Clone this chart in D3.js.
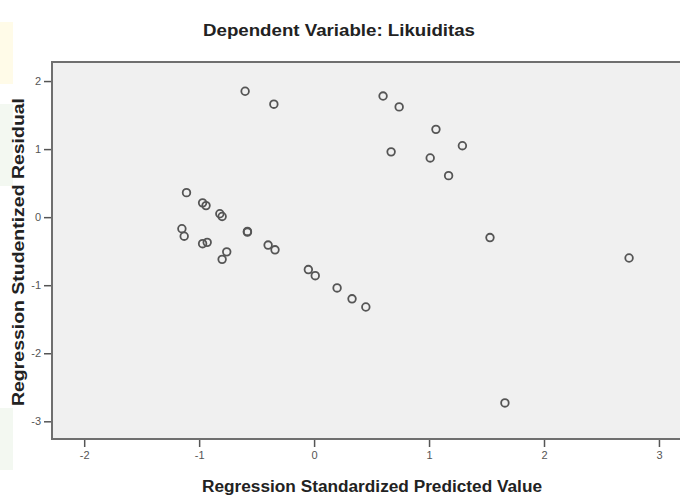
<!DOCTYPE html>
<html lang="en">
<head>
    <meta charset="UTF-8">
    <title>Scatterplot - Likuiditas</title>
    <script src="https://cdn.jsdelivr.net/npm/d3@7"></script>
    <style>
        body { margin: 0; background: #fff; }
        svg { display: block; }
    </style>
</head>
<body>
<script>

    // DATA
    const predicted = [-0.60, -0.35, 0.60, 0.74, 1.06, 0.67, 1.01, 1.29, 1.17, 1.53, 2.74, 1.66,
                       -1.11, -0.97, -0.94, -0.82, -0.80, -1.15, -1.13, -0.97, -0.93, -0.76, -0.80,
                       -0.58, -0.58, -0.40, -0.34, -0.05, 0.01, 0.20, 0.33, 0.45]
    const residual  = [1.85, 1.66, 1.78, 1.62, 1.29, 0.96, 0.87, 1.05, 0.61, -0.30, -0.60, -2.73,
                       0.36, 0.21, 0.17, 0.05, 0.01, -0.17, -0.28, -0.39, -0.37, -0.51, -0.62,
                       -0.21, -0.22, -0.41, -0.48, -0.77, -0.86, -1.04, -1.20, -1.32]
    const xTicks = [-2, -1, 0, 1, 2, 3]
    const yTicks = [2, 1, 0, -1, -2, -3]

    const title = "Dependent Variable: Likuiditas"
    const xLabel = "Regression Standardized Predicted Value"
    const yLabel = "Regression Studentized Residual"

    const data = predicted.map((p, i) => ({x: p, y: residual[i]}))

    // SVG
    const width = 680, height = 499
    const svg = d3.select("body").append("svg")
        .attr("width", width).attr("height", height)

    // faint tinted strips at the left edge of the screenshot
    svg.append("rect").attr("x", 0).attr("y", 22).attr("width", 13).attr("height", 62).style("fill", "#fffbe8")
    svg.append("rect").attr("x", 0).attr("y", 104).attr("width", 13).attr("height", 82).style("fill", "#f3f8f1")
    svg.append("rect").attr("x", 0).attr("y", 408).attr("width", 13).attr("height", 62).style("fill", "#f3f8f1")

    // SCALES
    const x = d3.scaleLinear().domain([-2.28, 3.27]).range([52, 690])
    const y = d3.scaleLinear().domain([-3.26, 2.28]).range([439, 62])

    // plot area
    svg.append("rect")
        .attr("x", x.range()[0]).attr("y", y.range()[1])
        .attr("width", x.range()[1] - x.range()[0])
        .attr("height", y.range()[0] - y.range()[1])
        .style("fill", "#f0f0f0")
        .style("stroke", "#6f6f6f")
        .style("stroke-width", 2)

    // AXES (plain hyphen for negatives, like the original)
    const fmt = d => String(d)
    const xAxis = d3.axisBottom(x).tickValues(xTicks).tickSize(7).tickPadding(4).tickFormat(fmt)
    const yAxis = d3.axisLeft(y).tickValues(yTicks).tickSize(7).tickPadding(3).tickFormat(fmt)

    const gx = svg.append("g").attr("transform", "translate(0,440)").call(xAxis)
    const gy = svg.append("g").attr("transform", "translate(51,0)").call(yAxis)

    for (const g of [gx, gy]) {
        g.select(".domain").remove()
        g.selectAll(".tick line").style("stroke", "#555").style("stroke-width", 1.5)
        g.selectAll(".tick text")
            .style("font-family", "Arial, 'Liberation Sans', sans-serif")
            .style("font-size", "11px")
            .style("fill", "#555")
    }

    // POINTS
    svg.append("g").selectAll("circle")
        .data(data)
        .join("circle")
        .attr("cx", d => x(d.x))
        .attr("cy", d => y(d.y))
        .attr("r", 3.8)
        .style("fill", "none")
        .style("stroke", "#555")
        .style("stroke-width", 1.8)

    // TEXT
    svg.append("text")
        .attr("x", 339).attr("y", 36)
        .attr("text-anchor", "middle")
        .attr("textLength", 272).attr("lengthAdjust", "spacingAndGlyphs")
        .style("font-family", "Arial, 'Liberation Sans', sans-serif")
        .style("font-size", "16px")
        .style("font-weight", "bold")
        .style("fill", "#222")
        .text(title)

    svg.append("text")
        .attr("x", 372).attr("y", 492)
        .attr("text-anchor", "middle")
        .attr("textLength", 340).attr("lengthAdjust", "spacingAndGlyphs")
        .style("font-family", "Arial, 'Liberation Sans', sans-serif")
        .style("font-size", "16px")
        .style("font-weight", "bold")
        .style("fill", "#222")
        .text(xLabel)

    svg.append("text")
        .attr("transform", "translate(24,252) rotate(-90)")
        .attr("text-anchor", "middle")
        .attr("textLength", 308).attr("lengthAdjust", "spacingAndGlyphs")
        .style("font-family", "Arial, 'Liberation Sans', sans-serif")
        .style("font-size", "16px")
        .style("font-weight", "bold")
        .style("fill", "#222")
        .text(yLabel)

</script>
</body>
</html>
